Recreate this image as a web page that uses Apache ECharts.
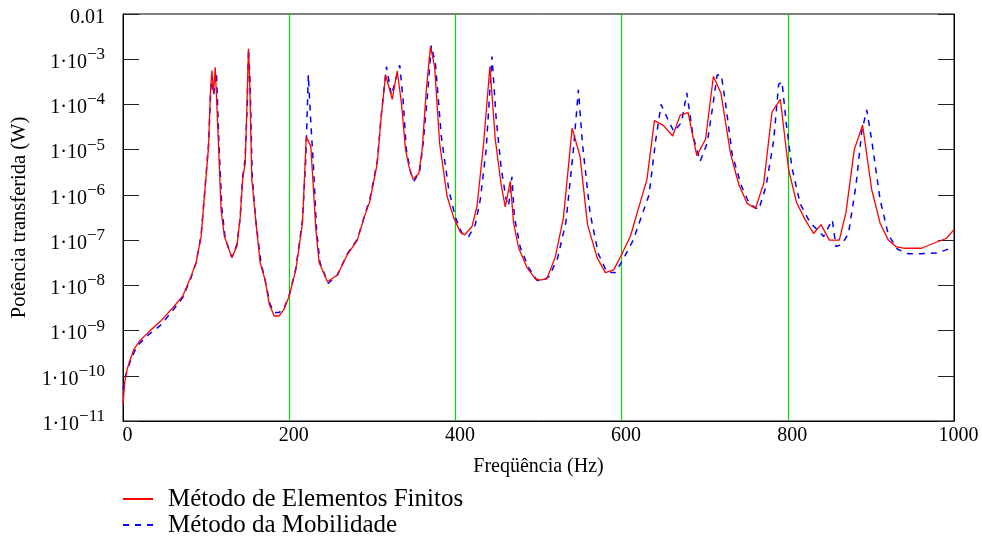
<!DOCTYPE html>
<html>
<head>
<meta charset="utf-8">
<script src="https://cdn.jsdelivr.net/npm/echarts@6/dist/echarts.min.js"></script>
<style>
  html, body { margin: 0; padding: 0; background: #fff; }
  #main { width: 982px; height: 545px; }
</style>
</head>
<body>
<div id="main"></div>
<script>
// Método de Elementos Finitos (frequência Hz, potência W)
const femFreq = [0, 2, 5, 8, 13, 20, 30, 45, 60, 72, 82, 88, 94, 100, 103, 105, 107, 109, 111, 115, 118, 122, 131, 137, 141, 144, 147, 149, 151, 152.5, 155, 160, 165, 171, 176, 182, 188, 194, 200, 208, 216, 220.5, 226, 232, 236, 246, 258, 270, 282, 290, 297, 306, 310, 316, 324, 330, 335, 340, 344, 349, 356, 360, 365, 370, 375, 381, 390, 398, 406, 411, 420, 426, 434, 441.5, 448, 455, 460, 466, 470, 476, 486, 496, 502, 510, 520, 530, 540.5, 550, 559, 570.5, 580.5, 590.5, 599, 610.5, 630.5, 639.5, 650.5, 661.5, 670.5, 680, 690.5, 701, 710.5, 719.5, 731, 741, 751, 761, 771, 781, 791, 801, 810.5, 821, 831, 840, 850, 862, 870, 880, 890, 901, 911, 921, 930, 941, 961, 971, 991, 1000];
const femPower = [2.3e-11, 7.1e-11, 1.4e-10, 2.1e-10, 3.8e-10, 5.9e-10, 8.9e-10, 1.6e-9, 3.2e-9, 5.8e-9, 1.6e-8, 3.2e-8, 1.2e-7, 2.6e-6, 1.2e-5, 1.6e-4, 5.6e-4, 1.8e-4, 6.6e-4, 1.2e-5, 4.7e-7, 1.2e-7, 4.1e-8, 7.2e-8, 3.1e-7, 2.2e-6, 5.0e-6, 7.6e-5, 1.7e-3, 3.0e-4, 2.2e-6, 2.4e-7, 3.2e-8, 1.3e-8, 3.8e-9, 2.1e-9, 2.1e-9, 3.0e-9, 5.8e-9, 2.2e-8, 2.4e-7, 1.9e-5, 1.2e-5, 1.8e-7, 3.2e-8, 1.2e-8, 1.7e-8, 4.8e-8, 1.0e-7, 3.1e-7, 7.2e-7, 5.0e-6, 3.9e-5, 4.5e-4, 1.3e-4, 5.5e-4, 1.1e-4, 1.0e-5, 4.3e-6, 2.2e-6, 3.0e-6, 1.0e-5, 2.1e-4, 1.9e-3, 6.9e-4, 1.4e-5, 9.3e-7, 3.1e-7, 1.5e-7, 1.3e-7, 2.0e-7, 5.6e-7, 1.4e-5, 6.9e-4, 1.7e-5, 1.7e-6, 5.4e-7, 2.0e-6, 2.4e-7, 6.8e-8, 2.5e-8, 1.4e-8, 1.3e-8, 1.4e-8, 4.1e-8, 3.1e-7, 3.0e-5, 7.1e-6, 2.2e-7, 4.1e-8, 1.9e-8, 2.2e-8, 4.4e-8, 1.2e-7, 2.2e-6, 4.4e-5, 3.4e-5, 2.0e-5, 5.8e-5, 6.6e-5, 7.4e-6, 1.7e-5, 4.2e-4, 1.8e-4, 8.3e-6, 1.7e-6, 6.5e-7, 5.0e-7, 1.8e-6, 6.8e-5, 1.3e-4, 3.6e-6, 6.8e-7, 2.8e-7, 1.4e-7, 2.2e-7, 1.0e-7, 1.0e-7, 4.1e-7, 1.0e-5, 3.5e-5, 1.3e-6, 2.4e-7, 1.0e-7, 7.2e-8, 6.6e-8, 6.6e-8, 7.9e-8, 1.1e-7, 1.7e-7];

// Método da Mobilidade
const mobFreq = [0, 3, 8, 14, 20, 30, 45, 60, 72, 82, 88, 94, 100, 103, 105.5, 106.8, 109, 112.5, 115.5, 119, 123, 131, 137, 141, 144, 147, 149.5, 151, 153, 155.5, 160, 166, 171, 177, 182, 188, 194, 200, 208, 216, 220, 223, 226, 229, 233, 237, 247, 258, 270, 282, 290, 297, 306, 311, 317, 323, 333, 337, 341, 346, 350, 357, 361, 366, 371, 376, 383, 392, 400, 408, 416, 424, 430, 437, 444, 449, 455, 461, 464, 468, 471, 478, 488, 498, 505, 513, 523, 533, 542, 548, 553, 562, 572, 582, 592, 601, 614, 633, 641, 647.5, 655, 663, 672, 678.5, 686, 694.5, 703, 710, 715, 720, 726, 733, 744, 754, 765, 774, 783, 789, 793, 798, 805, 815, 827, 837, 843, 853.5, 858, 865, 873, 882, 889, 895, 901, 911, 921, 932, 945, 960, 980, 1000];
const mobPower = [5.0e-11, 1.0e-10, 1.9e-10, 3.5e-10, 5.2e-10, 7.9e-10, 1.3e-9, 2.8e-9, 5.4e-9, 1.5e-8, 3.2e-8, 1.3e-7, 2.8e-6, 1.4e-5, 1.8e-4, 4.5e-4, 1.6e-4, 5.0e-4, 1.3e-5, 5.0e-7, 1.1e-7, 4.2e-8, 7.9e-8, 3.2e-7, 2.5e-6, 6.3e-6, 1.0e-4, 1.7e-3, 3.2e-4, 2.5e-6, 2.5e-7, 3.2e-8, 1.3e-8, 3.8e-9, 2.5e-9, 2.5e-9, 3.2e-9, 6.0e-9, 2.4e-8, 2.8e-7, 6.3e-6, 4.5e-4, 4.0e-5, 5.0e-6, 1.6e-7, 3.2e-8, 1.1e-8, 1.7e-8, 5.0e-8, 1.05e-7, 3.2e-7, 8.0e-7, 5.6e-6, 6.3e-5, 6.9e-4, 1.6e-4, 7.4e-4, 1.3e-4, 1.0e-5, 3.2e-6, 2.0e-6, 3.2e-6, 1.3e-5, 1.3e-4, 2.0e-3, 8.0e-4, 2.0e-5, 1.3e-6, 3.2e-7, 1.4e-7, 1.2e-7, 2.2e-7, 8.0e-7, 1.0e-5, 1.15e-3, 5.0e-5, 4.0e-6, 8.0e-7, 5.6e-7, 2.5e-6, 3.2e-7, 7.0e-8, 2.5e-8, 1.3e-8, 1.25e-8, 1.6e-8, 4.0e-8, 2.5e-7, 1.0e-5, 2.1e-4, 1.3e-5, 4.0e-7, 5.0e-8, 2.0e-8, 1.9e-8, 3.5e-8, 1.0e-7, 1.0e-6, 1.6e-5, 1.0e-4, 5.0e-5, 2.5e-5, 4.0e-5, 1.8e-4, 2.0e-5, 5.5e-6, 1.4e-5, 1.0e-4, 4.5e-4, 4.5e-4, 8.0e-5, 8.0e-6, 1.6e-6, 6.3e-7, 4.7e-7, 1.6e-6, 1.6e-5, 2.8e-4, 3.2e-4, 4.0e-5, 4.0e-6, 6.3e-7, 2.4e-7, 1.6e-7, 1.2e-7, 2.8e-7, 7.2e-8, 8.0e-8, 1.4e-7, 1.6e-6, 2.5e-5, 7.6e-5, 1.6e-5, 8.0e-7, 1.3e-7, 6.3e-8, 5.0e-8, 5.0e-8, 5.2e-8, 7.0e-8];

const xTicks = [0, 200, 400, 600, 800, 1000];
const gridFreqs = [200, 400, 600, 800];   // linhas verdes
const yMin = 1e-11;
const yMax = 0.01;

const serif = '"Liberation Serif", "DejaVu Serif", serif';

const pairs = (xs, ys) => xs.map((x, i) => [x, ys[i]]);

// rótulo tipo 1·10^-n
const yLabel = (v) => {
    const e = Math.round(Math.log10(v));
    if (e === -2) return '{m|0.01}';
    return '{m|1·10}{s|−' + (-e) + '}';
};

const chart = echarts.init(document.getElementById('main'));
chart.setOption({
    animation: false,
    backgroundColor: '#fff',
    grid: {
        left: 123, right: 28, top: 14, bottom: 124,
        outerBoundsMode: 'none', containLabel: false,
        show: true, borderColor: '#000', borderWidth: 1
    },
    legend: {
        orient: 'vertical',
        left: 122, top: 486, padding: 0,
        itemWidth: 30, itemHeight: 14, itemGap: 0,
        itemStyle: { opacity: 0 },
        textStyle: { fontFamily: serif, fontSize: 25, lineHeight: 26, color: '#000', padding: [0, 0, 0, 10] },
        data: ['Método de Elementos Finitos', 'Método da Mobilidade']
    },
    xAxis: {
        type: 'value', min: xTicks[0], max: xTicks[xTicks.length - 1], interval: 200,
        name: 'Freqüência (Hz)', nameLocation: 'middle', nameGap: 36,
        nameTextStyle: { fontFamily: serif, fontSize: 20, color: '#000' },
        axisLine: { lineStyle: { color: '#000', width: 1 } },
        axisTick: { show: false },
        axisLabel: { fontFamily: serif, fontSize: 20, color: '#000', margin: 5, padding: [0, 0, 0, 9], formatter: (v) => String(v) },
        splitLine: { show: false }
    },
    yAxis: [{
        type: 'log', logBase: 10, min: yMin, max: yMax, splitNumber: 9,
        name: 'Potência transferida (W)', nameLocation: 'middle', nameGap: 93,
        nameTextStyle: { fontFamily: serif, fontSize: 20.5, color: '#000' },
        axisLine: { show: true, lineStyle: { color: '#000' } },
        axisTick: { show: true, inside: true, length: 16, lineStyle: { color: '#222' } },
        axisLabel: {
            margin: 18, formatter: yLabel,
            rich: {
                m: { fontFamily: serif, fontSize: 20, color: '#000', padding: [7, 0, 0, 0] },
                s: { fontFamily: serif, fontSize: 17, color: '#000', padding: [0, 0, 9, 0] }
            }
        },
        splitLine: { show: false }
    }, {
        type: 'log', logBase: 10, min: yMin, max: yMax, splitNumber: 9, position: 'right',
        axisLine: { show: true, lineStyle: { color: '#000' } },
        axisTick: { show: true, inside: true, length: 16, lineStyle: { color: '#222' } },
        axisLabel: { show: false },
        splitLine: { show: false }
    }],
    series: [{
        name: 'Método de Elementos Finitos',
        type: 'line', symbol: 'none', z: 3,
        lineStyle: { color: '#ff0000', width: 1.3 },
        itemStyle: { color: '#ff0000' },
        data: pairs(femFreq, femPower),
        markLine: {
            silent: true, symbol: 'none', z: 1,
            label: { show: false },
            lineStyle: { color: '#00dd00', width: 1.2, type: 'solid' },
            data: gridFreqs.map((f) => ({ xAxis: f }))
        }
    }, {
        name: 'Método da Mobilidade',
        type: 'line', symbol: 'none', z: 2,
        lineStyle: { color: '#0000ff', width: 1.5, type: [6, 6] },
        itemStyle: { color: '#0000ff' },
        data: pairs(mobFreq, mobPower)
    }]
});
</script>
</body>
</html>
